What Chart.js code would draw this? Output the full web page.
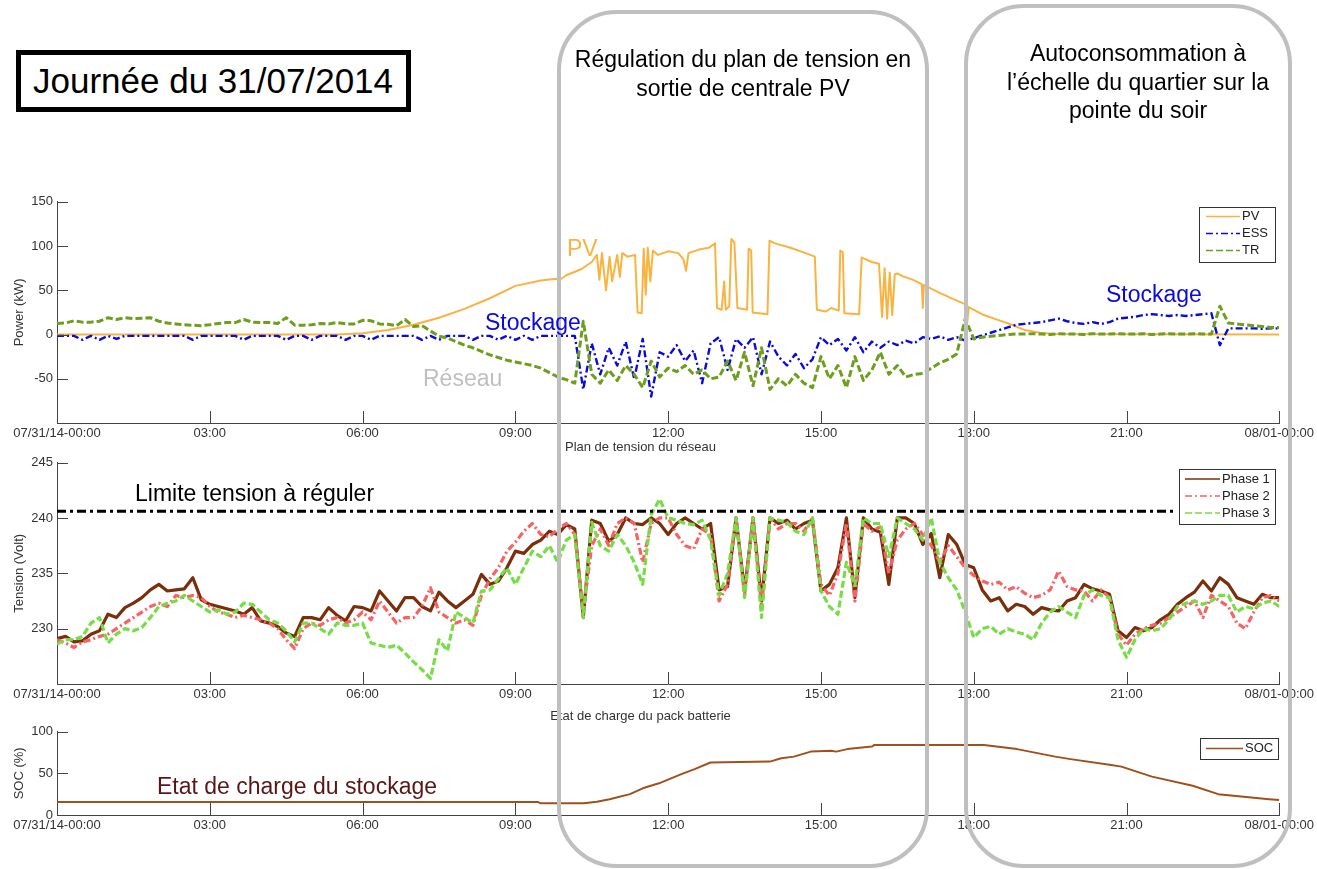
<!DOCTYPE html>
<html><head><meta charset="utf-8">
<script src="https://cdn.jsdelivr.net/npm/chart.js"></script>
<style>
html,body{margin:0;padding:0;background:#fff;}
body{width:1317px;height:869px;position:relative;overflow:hidden;font-family:"Liberation Sans",Arial,sans-serif;}
canvas{position:absolute;left:0;}
.ann{position:absolute;white-space:nowrap;line-height:1;font-size:23px;}
.ctr{text-align:center;}
.rr{position:absolute;border:4px solid #BFBFBF;border-radius:60px;box-sizing:border-box;pointer-events:none;}
</style></head><body>
<canvas id="c1" width="1317" height="260" style="top:190px;width:1317px;height:260px"></canvas>
<canvas id="c2" width="1317" height="271" style="top:437px;width:1317px;height:271px"></canvas>
<canvas id="c3" width="1317" height="134" style="top:706px;width:1317px;height:134px"></canvas>

<div class="ann" style="left:16px;top:50px;width:395px;height:62px;border:5px solid #000;box-sizing:border-box;font-size:35px;line-height:52px;padding-left:12px;">Journée du 31/07/2014</div>
<div class="rr" style="left:557px;top:10px;width:372px;height:858px;"></div>
<div class="rr" style="left:964px;top:4px;width:328px;height:864px;"></div>
<div class="ann ctr" style="left:559px;width:368px;top:48px;">Régulation du plan de tension en</div>
<div class="ann ctr" style="left:559px;width:368px;top:77px;">sortie de centrale PV</div>
<div class="ann ctr" style="left:968px;width:340px;top:42px;">Autoconsommation à</div>
<div class="ann ctr" style="left:968px;width:340px;top:71px;">l’échelle du quartier sur la</div>
<div class="ann ctr" style="left:968px;width:340px;top:99px;">pointe du soir</div>
<div class="ann" style="left:567px;top:237px;color:#F9B340;">PV</div>
<div class="ann" style="left:485px;top:311px;color:#0A0ADC;">Stockage</div>
<div class="ann" style="left:423px;top:367px;color:#BFBFBF;">Réseau</div>
<div class="ann" style="left:1106px;top:283px;color:#0A0ADC;">Stockage</div>
<div class="ann" style="left:135px;top:482px;color:#000;">Limite tension à réguler</div>
<div class="ann" style="left:157px;top:775px;color:#5A1616;">Etat de charge du stockage</div>

<script>
// ---------- DATA ----------
const xTickHours = [0, 3, 6, 9, 12, 15, 18, 21, 24];
const xTickLabels = ["07/31/14-00:00", "03:00", "06:00", "09:00", "12:00", "15:00", "18:00", "21:00", "08/01-00:00"];
const powerTicks = [-50, 0, 50, 100, 150];
const voltTicks = [230, 235, 240, 245];
const socTicks = [0, 50, 100];

// 10-minute sample times (hours 0..24)
const tGrid = [];
for (let i = 0; i <= 144; i++) tGrid.push(i / 6);

// PV power (kW) at irregular times
const pvT = [0,5.5,6,6.5,7,7.5,8,8.5,9,9.5,9.8,9.85,10,10.3,10.5,10.6,10.65,10.7,10.78,10.85,10.9,11.0,11.05,11.1,11.2,11.35,11.4,11.48,11.52,11.56,11.6,11.65,11.7,11.8,12.0,12.2,12.3,12.35,12.4,12.6,12.8,12.92,12.96,13.05,13.1,13.13,13.2,13.24,13.3,13.36,13.55,13.58,13.63,13.66,13.95,13.99,14.1,14.4,14.7,14.88,14.92,15.1,15.2,15.35,15.38,15.43,15.46,15.75,15.8,16.0,16.14,16.2,16.25,16.3,16.35,16.4,16.45,16.5,16.6,16.8,16.98,17.0,17.02,17.3,17.6,17.84,17.87,17.9,18.2,18.5,18.75,19.0,19.3,19.6,24];
const pvV = [0,0,1.5,5,11,19,29,41,55,61,63,61,67,74,82,90,62,92,50,88,60,90,65,92,88,90,25,24,97,45,98,60,95,90,94,92,85,72,92,96,98,103,30,28,60,28,32,108,104,30,28,97,95,25,23,106,103,98,92,88,28,26,30,27,95,93,24,23,87,82,80,20,75,18,70,22,68,69,66,62,57,30,56,48,40,34,12,31,22,16,11,5,2,0.5,0];

// ESS power (kW), 10-min grid
const essV = [
-1.5,-1.5,-1.5,-6,-1.5,-6,
-1.5,-5,-1.5,-1.5,-1.5,-1.5,
-1.5,-1.5,-1.5,-1.5,-6,-1.5,
-1.5,-1.5,-1.5,-1.5,-6,-1.5,
-1.5,-1.5,-1.5,-6,-1.5,-1.5,
-6,-1.5,-1.5,-1.5,-6,-1.5,
-1.5,-6,-1.5,-1.5,-1.5,-1.5,
-1.5,-6,-1.5,-6,-1.5,-1.5,
-1.5,-6,-1.5,-1.5,-6,-1.5,
-6,-1.5,-6,-1.5,-1.5,-1.5,
-1.5,-1.5,-62,-10,-45,-15,
-35,-8,-50,-5,-70,-20,
-25,-12,-30,-18,-55,-10,
-3,-40,-5,-15,-3,-45,
-8,-25,-35,-22,-38,-28,
-3,-12,-5,-18,-3,-20,
-8,-15,-8,-12,-7,-10,
-3,-5,-2,-6,-3,-7,
-4,-1,2,5,8,11,
12,13,14,16,18,15,
13,12,14,12,14,18,
19,20,22,23,22,21,
22,21,22,23,24,-12,
7,7,7,7,6.5,7,
7];

// Transformer (TR) power (kW), 10-min grid
const trV = [
12.5,13,15.5,14,14,15,
19,17,19,18,18.5,19,
15,13,12,11,10.5,10,
11,12.5,13.5,13.5,17,14,
13.5,13.5,12.5,19,10.5,10.5,
11,12.5,12,13.5,12,12,
16,15.5,12,11.5,10,17,
9,10,4,-2,-4,-8,
-12,-15,-19,-23,-26,-29,
-31,-33,-35,-38,-43,-48,
-51,-55,15,-45,-55,-40,
-52,-35,-45,-60,-30,-48,
-38,-42,-35,-45,-40,-50,
-48,-30,-52,-20,-58,-15,
-62,-50,-58,-45,-55,-60,
-25,-50,-35,-60,-25,-52,
-40,-20,-45,-35,-48,-45,
-44,-38,-32,-28,-22,18,
-5,-3,-2,-1,0,0.5,
0.5,1,0.5,0,1,0.5,
0.5,0,1,0.5,0.5,1,
0.5,0.5,1,0,0.5,1,
0.5,0.5,1,0.5,0.5,32,
13,12,11,10,9,8,
8];

// Phase voltages (V), 10-min grid
const phase1V = [
229.1,229.3,228.8,228.9,229.5,229.8,
231.3,231.0,231.9,232.3,232.8,233.5,
234.0,233.4,233.5,233.6,234.6,232.6,
232.2,232.0,231.8,231.6,231.3,231.9,
230.7,230.5,230.2,229.6,229.3,231.0,
231.0,230.8,231.9,231.2,230.7,232.0,
231.9,231.6,233.4,232.5,231.6,232.8,
232.8,232.0,231.6,233.3,232.5,231.9,
232.5,233.1,234.9,234.0,234.3,235.5,
237.0,236.8,237.6,238.0,238.8,238.5,
239.4,239.0,231.0,239.8,239.5,237.9,
238.5,240.0,239.5,239.4,240.0,239.5,
238.5,239.5,240.0,239.5,239.0,239.5,
233.5,233.8,240.0,233.4,240.0,232.5,
240.0,239.5,239.8,239.0,239.5,239.8,
233.4,234.0,235.5,240.0,232.8,240.0,
239.0,238.7,234.0,240.0,240.0,239.5,
237.6,238.6,234.6,238.5,237.6,235.8,
235.5,233.5,232.5,232.8,231.6,232.2,
232.0,231.3,231.9,231.7,231.6,232.5,
232.8,234.0,233.6,233.4,233.1,229.8,
229.2,230.1,229.8,230.1,230.8,231.3,
232.2,232.8,233.3,234.3,233.4,234.6,
234.0,232.8,232.5,232.2,233.1,232.8,
232.8];
const phase2V = [
229.0,228.7,228.3,228.8,229.0,229.3,
229.5,230.0,230.5,231.0,231.5,232.0,
232.3,232.0,233.0,232.8,233.0,232.8,
232.0,231.5,231.3,231.0,231.2,231.0,
230.8,230.5,230.0,229.0,228.2,230.0,
230.5,230.3,230.8,231.0,230.5,230.8,
231.5,230.8,232.5,231.5,230.5,231.0,
231.0,232.0,233.7,231.5,231.0,230.5,
230.8,230.3,233.0,234.5,235.5,237.0,
237.8,238.8,239.5,238.5,238.3,239.0,
239.5,238.5,231.5,237.5,239.0,237.5,
239.5,240.0,239.5,236.0,239.5,240.0,
240.0,238.5,237.5,237.2,239.0,238.5,
232.5,234.0,240.0,233.0,240.0,232.0,
240.0,239.0,239.5,239.5,238.8,240.0,
234.0,233.0,235.0,239.5,232.5,239.5,
238.8,239.2,235.0,238.0,239.0,239.5,
238.5,237.5,236.0,237.5,236.5,235.5,
234.8,234.3,234.0,234.2,233.5,233.8,
233.2,232.8,233.0,233.5,235.2,233.8,
233.5,233.4,232.5,233.5,232.8,229.5,
228.5,229.5,230.0,230.3,230.5,231.0,
231.5,232.0,232.5,231.0,233.0,232.5,
232.0,230.5,230.0,231.5,232.8,233.0,
232.5];
const phase3V = [
228.6,229.0,229.0,229.3,230.5,231.0,
228.7,229.5,230.0,229.8,230.1,231.0,
232.0,232.3,232.5,233.0,232.5,232.0,
231.5,231.7,231.3,231.5,232.3,232.2,
231.5,230.8,230.5,229.8,228.8,230.5,
230.5,230.0,229.5,230.5,230.3,230.3,
230.5,228.7,228.5,228.3,228.5,227.8,
227.0,226.3,225.5,229.0,228.0,231.5,
231.0,230.5,233.4,233.5,234.5,235.5,
234.0,235.5,237.0,236.5,237.5,236.0,
238.0,238.5,231.0,239.6,237.5,237.0,
238.5,237.5,236.0,234.0,240.3,241.7,
240.0,239.8,239.5,239.4,239.8,238.0,
233.0,235.0,240.0,232.8,240.0,231.0,
240.0,239.8,239.6,238.8,238.5,240.0,
233.4,232.0,231.3,236.0,233.9,240.0,
239.5,239.5,236.5,240.0,239.5,239.0,
238.0,240.0,236.0,234.6,233.5,231.5,
229.2,230.0,230.2,229.5,230.0,229.7,
229.5,229.0,230.5,231.5,232.0,231.5,
231.0,233.0,233.5,233.0,232.8,229.0,
227.4,229.0,230.0,229.8,230.0,230.8,
232.0,232.3,232.5,232.2,232.5,233.0,
233.0,231.5,232.0,231.8,232.3,232.5,
232.0];

// Voltage limit line
const limitT = [0, 21.95];
const limitV = [240.6, 240.6];

// State of charge (%) at irregular times
const socT = [0,9.45,9.5,10.35,10.6,10.85,11.25,11.5,11.82,12.26,12.52,12.83,14.0,14.22,14.47,14.8,15.2,15.3,15.52,16.0,16.05,18.2,18.85,19.6,19.9,20.7,20.9,21.5,22.3,22.8,23.1,23.8,24];
const socV = [15.5,15.5,14,14,16,19,25,32,38,49,55,63,64,68,70,76,77,76,79,82,84,84,79,70,67,60,58,46,35,25,23,19,18];

// ---------- CHARTS ----------
const FONT = '"Liberation Sans", Arial, sans-serif';
const toPts = (ts, vs) => ts.map((t, i) => ({x: t, y: vs[i]}));

const inTicks = {
  id: 'inTicks',
  afterDraw(chart) {
    const {ctx, chartArea, scales} = chart;
    ctx.save();
    ctx.strokeStyle = '#444';
    ctx.lineWidth = 1;
    scales.x.ticks.forEach(t => {
      const px = Math.round(scales.x.getPixelForValue(t.value)) + 0.5;
      ctx.beginPath(); ctx.moveTo(px, chartArea.bottom); ctx.lineTo(px, chartArea.bottom - 12); ctx.stroke();
    });
    scales.y.ticks.forEach(t => {
      const py = Math.round(scales.y.getPixelForValue(t.value)) + 0.5;
      ctx.beginPath(); ctx.moveTo(chartArea.left, py); ctx.lineTo(chartArea.left + 11, py); ctx.stroke();
    });
    ctx.restore();
  }
};

const insideLegend = {
  id: 'insideLegend',
  afterDraw(chart, args, o) {
    if (!o || !o.items) return;
    const {ctx, chartArea} = chart;
    const x = Math.round(chartArea.right + o.dx - o.w);
    const y = Math.round(chartArea.top + o.dy);
    ctx.save();
    ctx.fillStyle = '#fff';
    ctx.fillRect(x, y, o.w, o.h);
    ctx.strokeStyle = '#333';
    ctx.lineWidth = 1;
    ctx.strokeRect(x + 0.5, y + 0.5, o.w, o.h);
    o.items.forEach((idx, k) => {
      const ds = chart.data.datasets[idx];
      const yy = y + o.first + k * o.step;
      ctx.beginPath();
      ctx.setLineDash(ds.borderDash || []);
      ctx.strokeStyle = ds.borderColor;
      ctx.lineWidth = 1.5;
      ctx.moveTo(x + o.lx0, yy); ctx.lineTo(x + o.lx1, yy); ctx.stroke();
      ctx.setLineDash([]);
      ctx.fillStyle = '#222';
      ctx.font = '13px ' + FONT;
      ctx.textBaseline = 'middle';
      ctx.fillText(ds.label, x + o.tx, yy);
    });
    ctx.restore();
  }
};

function makeOptions(c) {
  return {
    responsive: false, animation: false, events: [],
    layout: {padding: {top: c.padTop, right: 36, left: 0, bottom: 0}},
    elements: {point: {radius: 0}, line: {tension: 0, borderJoinStyle: 'round'}},
    plugins: {
      legend: {display: false}, tooltip: {enabled: false},
      title: c.title ? {display: true, text: c.title, color: '#333', font: {size: 13, family: FONT, weight: 'normal'}, padding: {top: 3, bottom: 7}} : {display: false},
      insideLegend: c.legend
    },
    scales: {
      x: {
        type: 'linear', min: 0, max: 24,
        afterBuildTicks: s => { s.ticks = xTickHours.map(v => ({value: v})); },
        afterFit: s => { s.height = c.xh; },
        grid: {display: false, drawTicks: false},
        border: {display: true, color: '#444', width: 1},
        ticks: {autoSkip: false, maxRotation: 0, padding: 3, color: '#333', font: {size: 13, family: FONT},
                callback: v => xTickLabels[xTickHours.indexOf(v)]}
      },
      y: {
        type: 'linear', min: c.ymin, max: c.ymax,
        afterBuildTicks: s => { s.ticks = c.yticks.map(v => ({value: v})); },
        afterFit: s => { s.width = 57; },
        grid: {display: false, drawTicks: false},
        border: {display: true, color: '#444', width: 1},
        ticks: {padding: 4, color: '#333', font: {size: 13, family: FONT}, callback: v => String(v)},
        title: {display: true, text: c.ytitle, color: '#333', font: {size: 13, family: FONT}, padding: {top: 12, bottom: 0}}
      }
    }
  };
}

Chart.register(inTicks, insideLegend);

new Chart(document.getElementById('c1'), {
  type: 'line',
  data: {datasets: [
    {label: 'PV', data: toPts(pvT, pvV), borderColor: '#F9B340', borderWidth: 2, order: 2},
    {label: 'ESS', data: toPts(tGrid, essV), borderColor: '#0A0ADC', borderWidth: 2.4, borderDash: [7, 3, 2, 3], order: 1},
    {label: 'TR', data: toPts(tGrid, trV), borderColor: '#6E9E1C', borderWidth: 3, borderDash: [7, 3], order: 0}
  ]},
  options: makeOptions({padTop: 10, xh: 27, ymin: -100, ymax: 150, yticks: powerTicks, ytitle: 'Power (kW)',
    legend: {items: [0, 1, 2], dx: -4, dy: 5, w: 76, h: 55, first: 9.5, step: 17, lx0: 7, lx1: 41, tx: 43}})
});

new Chart(document.getElementById('c2'), {
  type: 'line',
  data: {datasets: [
    {label: 'Phase 1', data: toPts(tGrid, phase1V), borderColor: '#7A2E0A', borderWidth: 3.2, order: 3},
    {label: 'Phase 2', data: toPts(tGrid, phase2V), borderColor: '#F96262', borderWidth: 3.2, borderDash: [7, 3, 2, 3], order: 2},
    {label: 'Phase 3', data: toPts(tGrid, phase3V), borderColor: '#78DC46', borderWidth: 3.2, borderDash: [7, 3], order: 1},
    {label: 'Limite', data: toPts(limitT, limitV), borderColor: '#000', borderWidth: 3, borderDash: [9, 4, 3, 4], order: 0}
  ]},
  options: makeOptions({padTop: 0, xh: 24, ymin: 225, ymax: 245, yticks: voltTicks, ytitle: 'Tension (Volt)', title: 'Plan de tension du réseau',
    legend: {items: [0, 1, 2], dx: -4, dy: 6, w: 96, h: 55, first: 10, step: 17, lx0: 6, lx1: 41, tx: 43}})
});

new Chart(document.getElementById('c3'), {
  type: 'line',
  data: {datasets: [
    {label: 'SOC', data: toPts(socT, socV), borderColor: '#A0501C', borderWidth: 2}
  ]},
  options: makeOptions({padTop: 0, xh: 25, ymin: 0, ymax: 100, yticks: socTicks, ytitle: 'SOC (%)', title: 'Etat de charge du pack batterie',
    legend: {items: [0], dx: -1, dy: 6, w: 78, h: 21, first: 10.5, step: 17, lx0: 6, lx1: 43, tx: 45}})
});
</script>
</body></html>
